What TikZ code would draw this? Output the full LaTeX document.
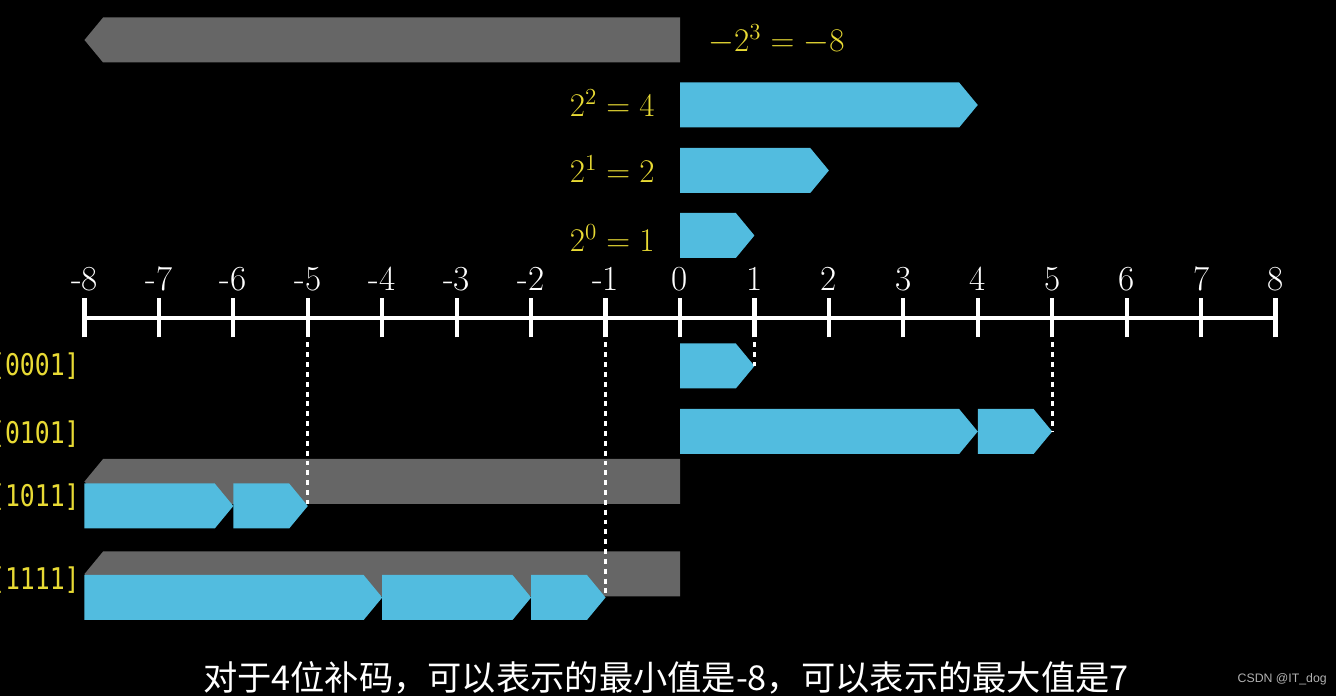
\documentclass[tikz,border=0pt]{standalone}
\usepackage{fontspec}
\usepackage{graphicx}
\newfontfamily\cjkfont{Noto Sans CJK SC}
\newfontfamily\codefont{DejaVu Sans Mono}
\newfontfamily\markfont{Liberation Sans}
\definecolor{barblue}{RGB}{82,188,223}
\definecolor{bargray}{RGB}{102,102,102}
\definecolor{labelyellow}{RGB}{232,218,52}
% bar pointing right from #1 to #2 at height #3, and the sign bar pointing left
\newcommand{\posbar}[3]{\fill[barblue] (#1,#3-0.45) -- (#2-0.25,#3-0.45) -- (#2,#3) -- (#2-0.25,#3+0.45) -- (#1,#3+0.45) -- cycle;}
\newcommand{\negbar}[1]{\fill[bargray] (0,#1-0.45) -- (-7.75,#1-0.45) -- (-8,#1) -- (-7.75,#1+0.45) -- (0,#1+0.45) -- cycle;}
\newcommand{\code}[1]{\scalebox{0.83}[1]{#1}}
\newcommand{\pw}[1]{\scalebox{1.09}{$#1$}}
\begin{document}
\begin{tikzpicture}[x=1.4888cm, y=1cm,
    every node/.style={inner sep=0pt},
    axisline/.style={white, line width=2.4pt},
    ticklabel/.style={white, anchor=base, font=\fontsize{20}{24}\selectfont},
    powlabel/.style={labelyellow, font=\fontsize{17.28}{21}\selectfont},
    codelabel/.style={labelyellow, anchor=east, font=\codefont\fontsize{17}{20}\selectfont},
    guide/.style={white, line width=1.7pt, dash pattern=on 2.8pt off 2.8pt, dash phase=2.8pt}]
  \useasboundingbox (-9.135,-7.56) rectangle (8.8125,6.36);
  \fill[black] (-9.135,-7.56) rectangle (8.8125,6.36);
  \clip (-9.135,-7.56) rectangle (8.8125,6.36);

  % weights of the four bits
  \negbar{5.56}
  \node[powlabel, anchor=base west] (pw3) at (0.376,5.32) {\pw{-2^3=-8}};
  \posbar{0}{4}{4.26}
  \node[powlabel, anchor=base east] (pw2) at (-0.336,4.02) {\pw{2^2=4}};
  \posbar{0}{2}{2.95}
  \node[powlabel, anchor=base east] (pw1) at (-0.336,2.70) {\pw{2^1=2}};
  \posbar{0}{1}{1.65}
  \node[powlabel, anchor=base east] (pw0) at (-0.336,1.32) {\pw{2^0=1}};

  % number line
  \draw[axisline] (-8,0) -- (8,0);
  \foreach \k in {-8,...,8} {
    \draw[axisline] (\k,-0.39) -- (\k,0.39);
    \node[ticklabel] (n\k) at (\k,0.54) {\k};
    \coordinate (k\k) at (\k,-0.39);
  }

  % 0001
  \posbar{0}{1}{-0.96}
  \coordinate (tipA) at (1,-0.96);
  \node[codelabel] (c0001) at (-8.06,-0.97) {\code{[0001]}};
  % 0101
  \posbar{0}{4}{-2.27}
  \posbar{4}{5}{-2.27}
  \coordinate (tipB) at (5,-2.27);
  \node[codelabel] (c0101) at (-8.06,-2.32) {\code{[0101]}};
  % 1011
  \negbar{-3.27}
  \posbar{-8}{-6}{-3.76}
  \posbar{-6}{-5}{-3.76}
  \coordinate (tipC) at (-5,-3.72);
  \node[codelabel] (c1011) at (-8.06,-3.59) {\code{[1011]}};
  % 1111
  \negbar{-5.12}
  \posbar{-8}{-4}{-5.59}
  \posbar{-4}{-2}{-5.59}
  \posbar{-2}{-1}{-5.59}
  \coordinate (tipD) at (-1,-5.57);
  \node[codelabel] (c1111) at (-8.06,-5.24) {\code{[1111]}};

  \draw[guide] (k1) -- (tipA);
  \draw[guide] (k5) -- (tipB);
  \draw[guide] (k-5) -- (tipC);
  \draw[guide] (k-1) -- (tipD);

  \node[white, font=\cjkfont\fontsize{19.5}{22}\selectfont] (note) at (-0.19,-7.2) {对于4位补码，可以表示的最小值是-8，可以表示的最大值是7};
  \node[gray!60!white, font=\markfont\fontsize{7}{8}\selectfont] (mark) at (8.09,-7.22) {CSDN @IT\_dog};
\end{tikzpicture}
\end{document}
